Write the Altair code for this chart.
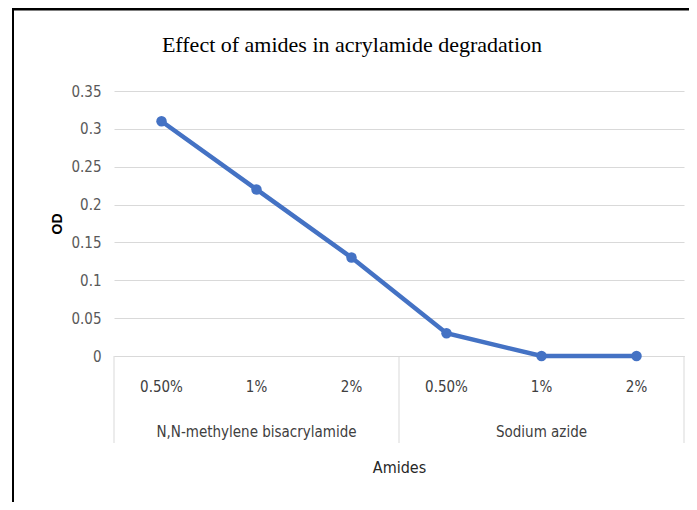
import altair as alt
import pandas as pd

groups = ["N,N-methylene bisacrylamide", "N,N-methylene bisacrylamide", "N,N-methylene bisacrylamide",
          "Sodium azide", "Sodium azide", "Sodium azide"]
levels = ["0.50%", "1%", "2%", "0.50%", "1%", "2%"]
od = [0.31, 0.22, 0.13, 0.03, 0.0, 0.0]

group_names = ["N,N-methylene bisacrylamide", "Sodium azide"]
group_centers = [1.5, 4.5]
separators = [0, 3, 6]
y_ticks = [0, 0.05, 0.1, 0.15, 0.2, 0.25, 0.3, 0.35]
chart_title = ["Effect of amides in acrylamide degradation"]

W, H = 570, 265
LABEL_FONT = "DejaVu Sans Condensed, Roboto Condensed, Roboto, sans-serif"

df = pd.DataFrame({"pos": [i + 0.5 for i in range(len(od))], "group": groups, "level": levels, "OD": od})
gdf = pd.DataFrame({"pos": group_centers, "name": group_names})
sdf = pd.DataFrame({"pos": separators})
tdf = pd.DataFrame({"t": chart_title})

xscale = alt.Scale(domain=[0, 6], nice=False, zero=False)
yscale = alt.Scale(domain=[0, 0.35], nice=False)

xaxis = alt.Axis(title="Amides", labels=False, ticks=False, grid=False,
                 domainColor="#d9d9d9", domainWidth=1,
                 titleFont=LABEL_FONT, titleFontSize=16, titleFontWeight="normal",
                 titleColor="#262626", titlePadding=103)
yaxis = alt.Axis(title="OD", values=y_ticks, tickCount=8,
                 format=".2~f", ticks=False, domain=False, labelOverlap=False,
                 gridColor="#d9d9d9", gridWidth=1,
                 labelFont=LABEL_FONT, labelFontSize=15, labelColor="#595959",
                 labelPadding=13,
                 titleFont="Liberation Sans, sans-serif", titleFontSize=14,
                 titleFontWeight="bold", titleColor="#000000", titlePadding=6)

xenc = alt.X("pos:Q", scale=xscale, axis=xaxis)
yenc = alt.Y("OD:Q", scale=yscale, axis=yaxis)

base = alt.Chart(df)

line = base.mark_line(color="#4472C4", strokeWidth=4.5).encode(x=xenc, y=yenc)
points = base.mark_circle(color="#4472C4", size=110, opacity=1).encode(x=xenc, y=yenc)

ticklabels = base.mark_text(font=LABEL_FONT, fontSize=15, color="#404040", baseline="middle").encode(
    x=xenc, y=alt.value(H + 31), text="level:N")

glabels = alt.Chart(gdf).mark_text(font=LABEL_FONT, fontSize=15, color="#404040", baseline="middle").encode(
    x=xenc, y=alt.value(H + 76), text="name:N")

seps = alt.Chart(sdf).mark_rule(color="#d9d9d9", strokeWidth=1).encode(
    x=xenc, y=alt.value(H), y2=alt.value(H + 87))

title = alt.Chart(tdf).mark_text(font="Liberation Serif, serif", fontSize=22, color="#000000",
                                 baseline="middle").encode(
    x=alt.value(238), y=alt.value(-46), text="t:N")

border_df = pd.DataFrame({"k": [0]})
left_border = alt.Chart(border_df).mark_rule(color="#000000", strokeWidth=2).encode(
    x=alt.value(-101), y=alt.value(-83), y2=alt.value(H + 160))
top_border = alt.Chart(border_df).mark_rule(color="#000000", strokeWidth=3).encode(
    x=alt.value(-101), x2=alt.value(W + 20), y=alt.value(-82))

chart = alt.layer(line, points, seps, ticklabels, glabels, title, left_border, top_border).properties(
    width=W, height=H,
    padding={"left": 106, "top": 83, "right": 5, "bottom": 146},
    autosize="none",
).configure_view(stroke=None)

chart.save("out.html", embed_options={"renderer": "svg", "actions": False})
